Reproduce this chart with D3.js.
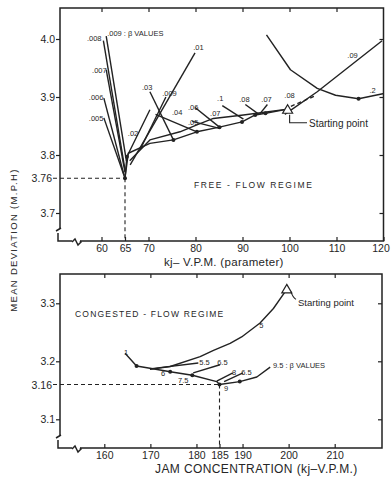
<!DOCTYPE html>
<html><head><meta charset="utf-8">
<script src="https://cdn.jsdelivr.net/npm/d3@7"></script>
<style>
body{margin:0;background:#fff}
svg{-webkit-font-smoothing:antialiased}
text{font-family:"Liberation Sans","DejaVu Sans",sans-serif;fill:#262626}
.ann{opacity:0.99}
</style>
</head><body><svg id="c" width="391" height="478"></svg>
<script>
// ---------- Free-flow regime (kj parameter vs mean deviation) ----------
const freeTicksX = [60, 65, 70, 80, 90, 100, 110, 120];
const freeTicksY = [3.7, 3.8, 3.9, 4.0];
const freeOptimum = {kj: 65, dev: 3.76};
const freeStart = {kj: 99.6, dev: 3.878};

// steep left arms of the low beta curves
const freeBeta009 = [[61.0, 4.005], [65.3, 3.790]];
const freeBeta008 = [[60.4, 3.997], [65.0, 3.775]];
const freeBeta007 = [[61.0, 3.947], [65.0, 3.770]];
const freeBeta006 = [[60.5, 3.898], [64.8, 3.765]];
const freeBeta005 = [[60.5, 3.864], [65.0, 3.760]];
// right arms rising from the minimum
const freeArmA = [[65.0, 3.760], [65.4, 3.797], [70.3, 3.878]];
const freeBeta01 = [[79.9, 3.976], [66.1, 3.783]];
const freeBeta009b = [[73.7, 3.900], [68.2, 3.809]];
const freeBeta03 = [[70.3, 3.909], [75.3, 3.826]];
const freeBeta04 = [[71.5, 3.870], [80.3, 3.840]];
const freeBeta06 = [[79.9, 3.882], [85.1, 3.848]];
const freeBeta05 = [[79.3, 3.858], [85.1, 3.846]];
const freeBeta1 = [[85.7, 3.885], [90.2, 3.862]];
const freeBeta08 = [[90.6, 3.887], [93.5, 3.870]];
const freeBeta07 = [[95.3, 3.887], [93.6, 3.870]];
// search path from the starting point down to the optimum
const freePathLow = [[99.6, 3.879], [94.9, 3.872], [92.7, 3.869], [89.9, 3.857], [85.1, 3.848],
  [80.3, 3.840], [75.3, 3.826], [70.3, 3.820], [65.7, 3.803], [65.0, 3.760]];
const freePathHigh = [[99.6, 3.879], [90.2, 3.869], [83.8, 3.863], [80.3, 3.852], [76.7, 3.840],
  [70.3, 3.826], [66.0, 3.790]];
const freeExtension = [[100.3, 3.884], [105.2, 3.901]];
const freeBeta09 = [[99.0, 3.870], [105.9, 3.909], [119.7, 3.997]];
const freeBeta2 = [[95.1, 4.007], [100.2, 3.947], [105.9, 3.915], [109.8, 3.903], [114.7, 3.897], [120.1, 3.906]];
const freeDots = [[65.0, 3.760], [65.4, 3.797], [75.3, 3.826], [80.3, 3.840], [85.1, 3.848], [89.9, 3.857],
  [92.7, 3.869], [94.9, 3.872], [114.7, 3.897]];
const freeLabels = [
  [".008", 56.9, 3.997], [".009 : β VALUES", 61.2, 4.005], [".007", 58.0, 3.941], [".006", 57.3, 3.895],
  [".005", 57.3, 3.859], [".01", 79.5, 3.981], [".03", 68.6, 3.912], [".009", 72.9, 3.902],
  [".02", 65.6, 3.833], [".04", 75.0, 3.869], [".06", 78.4, 3.878], [".05", 78.4, 3.852],
  [".07", 83.1, 3.867], [".1", 84.6, 3.893], [".08", 89.3, 3.891], [".07", 94.0, 3.891],
  [".08", 98.9, 3.898], [".09", 112.3, 3.967], [".2", 117.0, 3.907]
];

// ---------- Congested-flow regime (jam concentration vs mean deviation) ----------
const jamTicksX = [160, 170, 180, 185, 190, 200, 210];
const jamTicksY = [3.1, 3.2, 3.3];
const jamOptimum = {kj: 185, dev: 3.16};
const jamStart = {kj: 199.6, dev: 3.324};
const jamBeta5 = [[199.6, 3.324], [196.7, 3.291], [193.8, 3.266], [189.8, 3.242], [187.3, 3.231],
  [183.7, 3.219], [180.8, 3.208], [174.3, 3.191], [169.9, 3.186]];
const jamMain = [[164.5, 3.214], [167.0, 3.192], [169.9, 3.188], [174.3, 3.182], [179.1, 3.176],
  [184.4, 3.165], [185.0, 3.160], [189.4, 3.165], [193.1, 3.173], [196.0, 3.190]];
const jamBeta55 = [[180.4, 3.197], [169.9, 3.187]];
const jamBeta65a = [[185.1, 3.194], [179.3, 3.180]];
const jamBeta8 = [[187.9, 3.180], [184.4, 3.166]];
const jamBeta65b = [[190.1, 3.180], [186.0, 3.165]];
const jamDots = [[167.0, 3.192], [174.3, 3.182], [179.1, 3.176], [185.0, 3.160], [189.4, 3.165]];
const jamLabels = [
  ["1", 164.3, 3.211], ["5", 193.6, 3.257], ["5.5", 180.6, 3.194], ["6.5", 184.5, 3.194],
  ["8", 187.7, 3.176], ["6.5", 189.7, 3.176], ["9.5 : β VALUES", 196.6, 3.188],
  ["6", 172.3, 3.175], ["7.5", 176.0, 3.163], ["9", 186.0, 3.149]
];

const svg = d3.select("#c");
const ink = "#222";

// panel frames and scales
const panelF = {x0: 60, x1: 383.5, y0: 8, y1: 241};
const panelJ = {x0: 60, x1: 382, y0: 274, y1: 448};
const xF = d3.scaleLinear().domain([65, 120]).range([125, 383.5]);
const yF = d3.scaleLinear().domain([3.7, 4.0]).range([213, 39]);
const xJ = d3.scaleLinear().domain([160, 210]).range([104.3, 334.7]);
const yJ = d3.scaleLinear().domain([3.1, 3.3]).range([419.3, 303.3]);

function frame(p) {
  // left edge with a small break near the bottom, then the other three sides
  const g = svg.append("g").attr("stroke", ink).attr("fill", "none").attr("stroke-width", 1.5);
  g.append("path").attr("d",
    `M${p.x0},${p.y1 - 12} L${p.x0},${p.y0} L${p.x1},${p.y0} L${p.x1},${p.y1} L${p.x0 + 20},${p.y1}`);
  g.append("path").attr("d",
    `M${p.x0 - 4},${p.y1 - 10} L${p.x0 + 1},${p.y1 - 13} M${p.x0 - 2},${p.y1 - 8} L${p.x0 - 2},${p.y1} L${p.x0 + 12},${p.y1}
     M${p.x0 + 12},${p.y1 + 1} l3,-3 l3,6 l3,-3 L${p.x0 + 20},${p.y1}`);
}
frame(panelF);
frame(panelJ);

function axes(x, y, p, tx, ty, ticksTop, ticksRight) {
  const gb = svg.append("g").attr("transform", `translate(0,${p.y1})`)
    .call(d3.axisBottom(x).tickValues(tx).tickSizeInner(-4).tickSizeOuter(0).tickPadding(4)
      .tickFormat(d3.format("d")));
  gb.select(".domain").remove();
  const gl = svg.append("g").attr("transform", `translate(${p.x0},0)`)
    .call(d3.axisLeft(y).tickValues(ty).tickSizeInner(4).tickSizeOuter(0).tickPadding(1)
      .tickFormat(d3.format(".1f")));
  gl.select(".domain").remove();
  const gt = svg.append("g").attr("transform", `translate(0,${p.y0})`)
    .call(d3.axisTop(x).tickValues(ticksTop).tickSizeInner(-4).tickSizeOuter(0).tickFormat(""));
  gt.select(".domain").remove();
  const gr = svg.append("g").attr("transform", `translate(${p.x1},0)`)
    .call(d3.axisRight(y).tickValues(ticksRight).tickSizeInner(-4).tickSizeOuter(0).tickFormat(""));
  gr.select(".domain").remove();
  svg.selectAll(".tick line").attr("stroke", ink).attr("stroke-width", 1.2);
  svg.selectAll(".tick text").attr("font-size", 10.5).attr("fill", "#262626")
    .attr("font-family", "'Liberation Sans', sans-serif");
  return gb;
}
const gbF = axes(xF, yF, panelF, freeTicksX, freeTicksY, [60, 70, 80, 90, 100, 110], freeTicksY);
axes(xJ, yJ, panelJ, jamTicksX, jamTicksY, [160, 170, 180, 190, 200, 210], jamTicksY);
// keep the last label of the kj axis inside the page
gbF.selectAll(".tick text").filter(d => d === 120).attr("dx", -3);

// dashed guides to the optimum of each regime
function guide(x, y, p, opt, lab) {
  const g = svg.append("g").attr("stroke", ink).attr("stroke-width", 1.1).attr("stroke-dasharray", "4,3");
  g.append("line").attr("x1", p.x0 - 7).attr("x2", x(opt.kj)).attr("y1", y(opt.dev)).attr("y2", y(opt.dev));
  g.append("line").attr("x1", x(opt.kj)).attr("x2", x(opt.kj)).attr("y1", y(opt.dev)).attr("y2", p.y1);
  svg.append("text").attr("x", p.x0 - 8).attr("y", y(opt.dev) + 4).attr("text-anchor", "end")
    .attr("font-size", 10.5).text(lab);
}
guide(xF, yF, panelF, freeOptimum, "3.76");
guide(xJ, yJ, panelJ, jamOptimum, "3.16");

const line = (x, y) => d3.line().x(d => x(d[0])).y(d => y(d[1]));
function draw(x, y, series, dashed) {
  series.forEach(s => svg.append("path").attr("d", line(x, y)(s)).attr("fill", "none")
    .attr("stroke", ink).attr("stroke-width", 1.4).attr("stroke-linejoin", "round")
    .attr("stroke-dasharray", dashed ? "4,3" : null));
}
draw(xF, yF, [freeBeta009, freeBeta008, freeBeta007, freeBeta006, freeBeta005, freeArmA, freeBeta01,
  freeBeta009b, freeBeta03, freeBeta04, freeBeta06, freeBeta05, freeBeta1, freeBeta08, freeBeta07,
  freePathLow, freePathHigh, freeBeta09, freeBeta2]);
draw(xF, yF, [freeExtension], true);
draw(xJ, yJ, [jamBeta5, jamMain, jamBeta55, jamBeta65a, jamBeta8, jamBeta65b]);

function dots(x, y, pts) {
  svg.append("g").selectAll("circle").data(pts).join("circle")
    .attr("cx", d => x(d[0])).attr("cy", d => y(d[1])).attr("r", 2).attr("fill", ink);
}
dots(xF, yF, freeDots);
dots(xJ, yJ, jamDots);

function labels(x, y, arr, size) {
  svg.append("g").attr("class", "ann").selectAll("text").data(arr).join("text")
    .attr("x", d => x(d[1])).attr("y", d => y(d[2])).attr("font-size", size).text(d => d[0]);
}
labels(xF, yF, freeLabels, 7.5);
labels(xJ, yJ, jamLabels, 7.5);

// starting points
function start(x, y, s, lx, ly, size, curve) {
  const cx = x(s.kj), cy = y(s.dev);
  svg.append("path").attr("d", curve).attr("fill", "none").attr("stroke", ink).attr("stroke-width", 1.1);
  svg.append("path").attr("d", `M${cx},${cy - 5} L${cx + 5},${cy + 3.5} L${cx - 5},${cy + 3.5} Z`)
    .attr("fill", "#fff").attr("stroke", ink).attr("stroke-width", 1.2);
  svg.append("text").attr("x", lx).attr("y", ly).attr("font-size", size).text("Starting point");
}
start(xF, yF, freeStart, 309, 127, 10,
  `M${xF(freeStart.kj) + 2},${yF(freeStart.dev) + 5} L${xF(freeStart.kj) + 2},${yF(freeStart.dev) + 13} L307,${yF(freeStart.dev) + 13}`);
start(xJ, yJ, jamStart, 298, 306, 9.5,
  `M${xJ(jamStart.kj) + 4},${yJ(jamStart.dev) + 2} Q${xJ(jamStart.kj) + 6},${yJ(jamStart.dev) + 8} 296,${yJ(jamStart.dev) + 10}`);

// regime titles and axis titles
svg.append("text").attr("x", 194).attr("y", 188).attr("font-size", 8.5).attr("letter-spacing", 1.6)
  .text("FREE - FLOW REGIME");
svg.append("text").attr("x", 75).attr("y", 317).attr("font-size", 8.5).attr("letter-spacing", 1.2)
  .text("CONGESTED - FLOW REGIME");
svg.append("text").attr("x", 164).attr("y", 266).attr("font-size", 11.5).attr("letter-spacing", 0.3)
  .text("kj– V.P.M.  (parameter)");
svg.append("text").attr("x", 155).attr("y", 473).attr("font-size", 12).attr("letter-spacing", 0.4)
  .text("JAM  CONCENTRATION  (kj–V.P.M.)");
svg.append("text").attr("transform", "translate(17,240) rotate(-90)").attr("text-anchor", "middle")
  .attr("font-size", 9.5).attr("letter-spacing", 1.3).text("MEAN  DEVIATION (M.P.H)");
</script></body></html>
